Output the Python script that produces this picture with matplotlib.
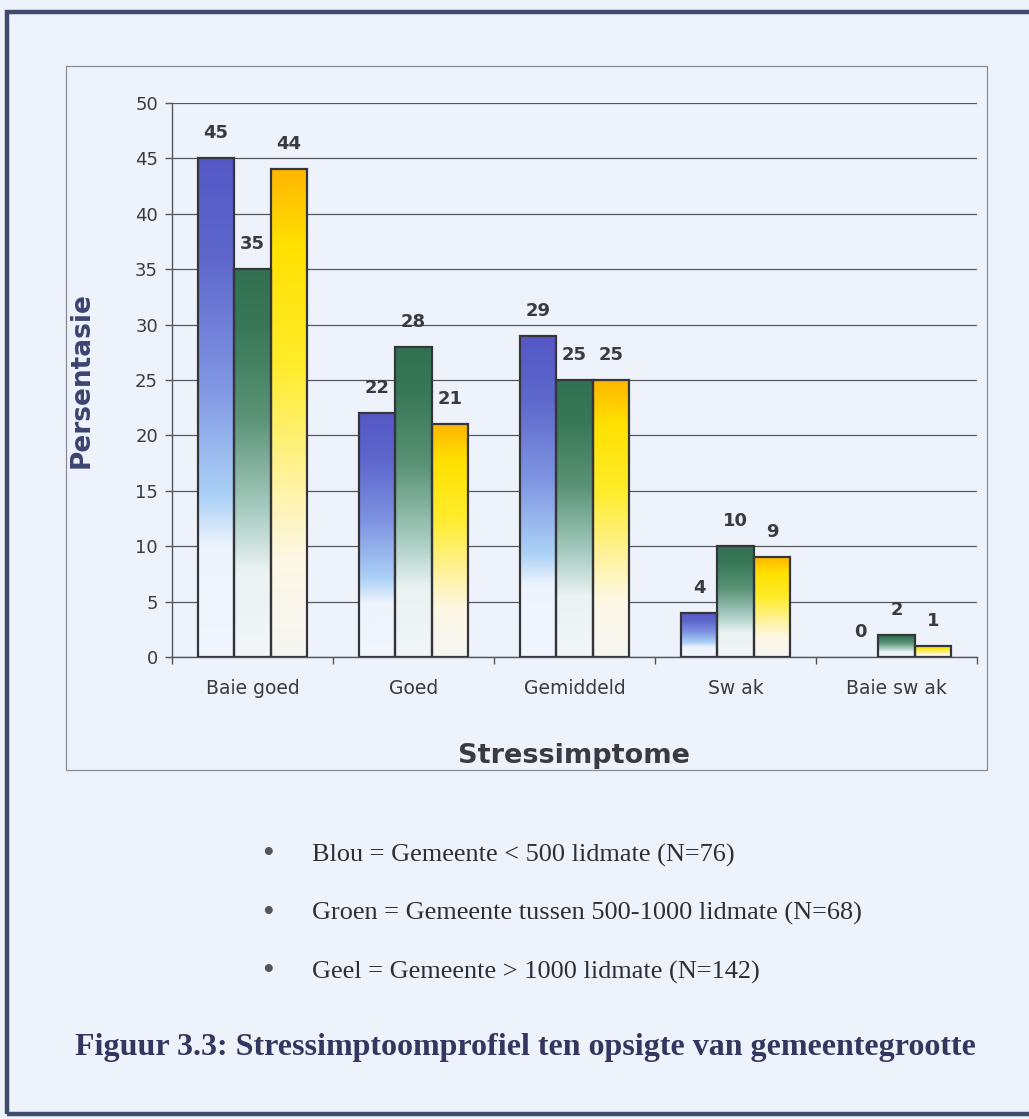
import numpy as np
import matplotlib.pyplot as plt
from matplotlib.colors import LinearSegmentedColormap
from matplotlib.patches import Rectangle

# Stressimptoom-profiel per gemeentegrootte (persentasies)
categories = ["Baie goed", "Goed", "Gemiddeld", "Sw ak", "Baie sw ak"]
blou = [45, 22, 29, 4, 0]
groen = [35, 28, 25, 10, 2]
geel = [44, 21, 25, 9, 1]
y_ticks = [0, 5, 10, 15, 20, 25, 30, 35, 40, 45, 50]
legend_lines = [
    "Blou = Gemeente < 500 lidmate (N=76)",
    "Groen = Gemeente tussen 500-1000 lidmate (N=68)",
    "Geel = Gemeente > 1000 lidmate (N=142)",
]
caption = "Figuur 3.3: Stressimptoomprofiel ten opsigte van gemeentegrootte"

bg = "#eef2fa"
text_col = "#3a3a44"

# gradient fills: white at the bottom of each bar, full colour at the top
grad_blou = LinearSegmentedColormap.from_list("blou", [
    (0.0, "#f2f6fd"), (0.22, "#eef4fd"), (0.32, "#acd2f6"),
    (0.55, "#7f95e2"), (0.8, "#5e68cc"), (1.0, "#5458c6")])
grad_groen = LinearSegmentedColormap.from_list("groen", [
    (0.0, "#f2f6f8"), (0.22, "#eaf2f2"), (0.38, "#a6cbc0"),
    (0.62, "#5a9276"), (0.85, "#387858"), (1.0, "#327052")])
grad_geel = LinearSegmentedColormap.from_list("geel", [
    (0.0, "#f6f6f2"), (0.2, "#fdf8e6"), (0.34, "#fff3a8"),
    (0.6, "#ffec2a"), (0.85, "#ffe000"), (1.0, "#ffb600")])

fig = plt.figure(figsize=(10.29, 11.19), dpi=100, facecolor=bg)
W, H = 1029, 1119

# outer page frame and the chart frame
fig.patches.append(Rectangle((7 / W, 5 / H), 1.1, 1102 / H, transform=fig.transFigure,
                             fill=False, edgecolor="#3e4b6c", linewidth=3.2))
fig.patches.append(Rectangle((66 / W, (H - 770) / H), 921 / W, 704 / H,
                             transform=fig.transFigure, fill=False,
                             edgecolor="#8a8c94", linewidth=0.9))

ax = fig.add_axes([172 / W, (H - 657) / H, 805 / W, 554 / H])
ax.set_facecolor("none")

x = np.arange(len(categories))
w = 0.227
series = [(blou, grad_blou, -w), (groen, grad_groen, 0.0), (geel, grad_geel, w)]
grad = np.linspace(0, 1, 256).reshape(-1, 1)

for vals, cmap, off in series:
    bars = ax.bar(x + off, vals, w, facecolor="none", edgecolor="#35353a",
                  linewidth=1.6, zorder=4)
    for b, v in zip(bars, vals):
        if v > 0:
            ax.imshow(grad, cmap=cmap, origin="lower", aspect="auto", zorder=3,
                      extent=(b.get_x(), b.get_x() + b.get_width(), 0, b.get_height()),
                      interpolation="bilinear")
        else:
            b.set_visible(False)
        ax.annotate(str(v), (b.get_x() + b.get_width() / 2, v), xytext=(0, 18),
                    textcoords="offset points", ha="center", va="center",
                    fontsize=13, fontweight="bold", color=text_col)

ax.set_xlim(-0.5, len(categories) - 0.5)
ax.set_ylim(0, 50)
ax.set_yticks(y_ticks)
ax.yaxis.grid(True, color="#55565c", linewidth=0.9)
ax.set_axisbelow(True)

ax.set_xticks(x)
ax.set_xticklabels(categories)
ax.set_xticks(np.arange(len(categories) + 1) - 0.5, minor=True)
ax.tick_params(axis="x", which="major", length=0, pad=16, labelsize=13.5,
               labelcolor=text_col)
ax.tick_params(axis="x", which="minor", length=5, width=1, color="#55565c",
               direction="out")
ax.tick_params(axis="y", length=5, width=1, color="#55565c", pad=5,
               labelsize=13, labelcolor=text_col)

for s in ("top", "right"):
    ax.spines[s].set_visible(False)
for s in ("left", "bottom"):
    ax.spines[s].set_color("#55565c")
    ax.spines[s].set_linewidth(1)

ax.set_ylabel("Persentasie", fontsize=19, fontweight="bold", color="#3a4470")
ax.yaxis.set_label_coords(-0.096, 0.5)
ax.set_xlabel("Stressimptome", fontsize=19.5, fontweight="bold", color=text_col)
ax.xaxis.set_label_coords(0.5, -0.155)

# legend text underneath the chart
for i, line in enumerate(legend_lines):
    yy = 1 - (855 + 58.5 * i) / H
    fig.text(268 / W, yy, "\u2022", fontsize=24, ha="center", va="center",
             color="#555560", family="Liberation Serif")
    fig.text(312 / W, yy, line, fontsize=18.9, ha="left", va="center",
             color="#2e2e38", family="Liberation Serif")

fig.text(75 / W, 1 - 1048 / H, caption, fontsize=23, fontweight="bold",
         ha="left", va="center", color="#33365e", family="Liberation Serif")

fig.savefig("out.png", dpi=100, facecolor=bg)
